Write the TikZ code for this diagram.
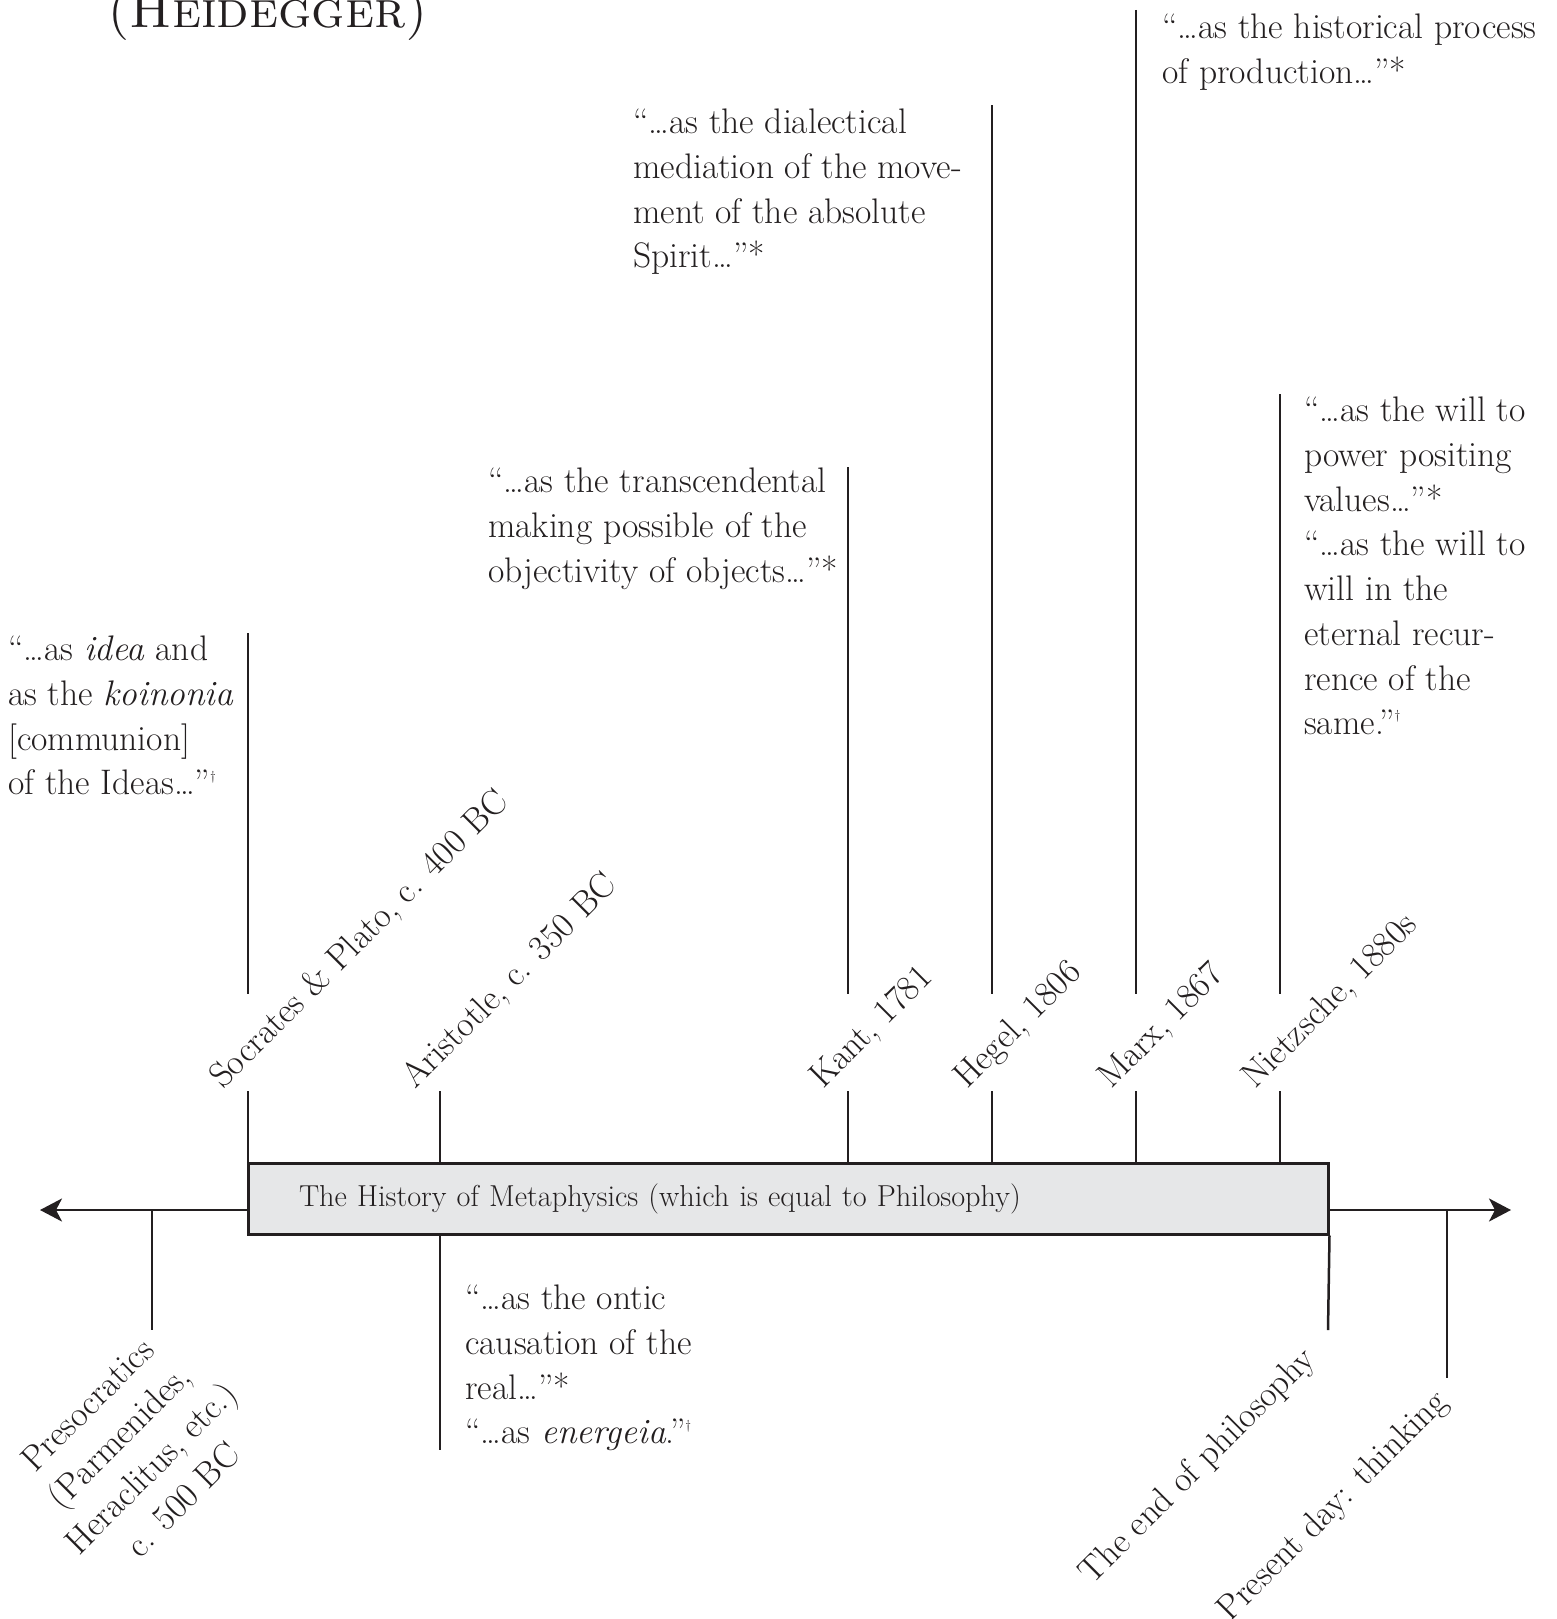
\documentclass[tikz,border=0pt]{standalone}
\usepackage{fontspec}
\usepackage{xcolor}
\usetikzlibrary{arrows.meta,positioning,calc}
\definecolor{ink}{RGB}{35,31,32}
\definecolor{boxgrey}{RGB}{230,231,232}
\newcommand{\dg}{\raisebox{0.42em}{\fontsize{13}{13}\selectfont\textdagger}}

\begin{document}
\begin{tikzpicture}[x=1pt, y=-1pt,
    quote/.style={anchor=north west, align=left, inner sep=0pt, text=ink, font=\fontsize{35.5}{44.7}\selectfont},
    datelbl/.style={rotate=45, anchor=base west, inner sep=0pt, text=ink, font=\fontsize{35.5}{40}\selectfont},
    endlbl/.style={rotate=45, anchor=base east, inner sep=0pt, text=ink, font=\fontsize{35.5}{40}\selectfont},
    tick/.style={draw=ink, line width=2.5pt},
    histbox/.style={rectangle, draw=ink, fill=boxgrey, line width=3pt, minimum height=71pt, inner xsep=51pt, inner ysep=0pt, text width=978pt, align=left, text=ink, font=\fontsize{30.3}{36}\selectfont},
    arrow/.style={-{Stealth[length=22pt, width=23pt, inset=6pt]}, draw=ink, line width=2.5pt}
]
\useasboundingbox (0,0) rectangle (1556,1619);

% Title (cut off at the top)
\node[anchor=base west, inner sep=0pt, text=ink, font=\fontsize{52}{52}\selectfont] (title) at (107,28) {\textsc{(Heidegger)}};

% Timeline
\node[histbox] (hist) at (788,1198.5) {The History of Metaphysics (which is equal to Philosophy)};
\coordinate (past) at (40,1210);
\coordinate (future) at (1511,1210);
\draw[arrow] (hist.west |- past) -- (past);
\draw[arrow] (hist.east |- future) -- (future);

% Gap where the dates cross the ticks
\coordinate (gap top) at (0,994);
\coordinate (gap bot) at (0,1091);

% Tick tops
\coordinate (soc top) at (248,633);
\coordinate (ari top) at (440,1091);
\coordinate (kant top) at (848,467);
\coordinate (hegel top) at (992,105);
\coordinate (marx top) at (1136,10);
\coordinate (nietz top) at (1280,394);

% Ticks above the box
\draw[tick] (soc top) -- (soc top |- gap top);
\draw[tick] (soc top |- gap bot) -- (soc top |- hist.north);
\draw[tick] (ari top) -- (ari top |- hist.north);
\draw[tick] (kant top) -- (kant top |- gap top);
\draw[tick] (kant top |- gap bot) -- (kant top |- hist.north);
\draw[tick] (hegel top) -- (hegel top |- gap top);
\draw[tick] (hegel top |- gap bot) -- (hegel top |- hist.north);
\draw[tick] (marx top) -- (marx top |- gap top);
\draw[tick] (marx top |- gap bot) -- (marx top |- hist.north);
\draw[tick] (nietz top) -- (nietz top |- gap top);
\draw[tick] (nietz top |- gap bot) -- (nietz top |- hist.north);

% Dates
\node[datelbl] (soc) at (223,1090) {Socrates \& Plato, c. 400 BC};
\node[datelbl] (ari) at (415,1090) {Aristotle, c. 350 BC};
\node[datelbl] (kant) at (823,1090) {Kant, 1781};
\node[datelbl] (hegel) at (967,1090) {Hegel, 1806};
\node[datelbl] (marx) at (1111,1090) {Marx, 1867};
\node[datelbl] (nietz) at (1255,1090) {Nietzsche, 1880s};

% Ticks below the box
\coordinate (preso end) at (152,1330);
\coordinate (ari end) at (440,1450);
\coordinate (end end) at (1328,1330);
\coordinate (now end) at (1447,1378);
\draw[tick] (preso end |- past) -- (preso end);
\draw[tick] (ari end |- hist.south) -- (ari end);
\draw[tick] (hist.south east) -- (end end);
\draw[tick] (now end |- future) -- (now end);

\node[rotate=45, align=center, inner sep=0pt, text=ink, font=\fontsize{35.5}{45}\selectfont] (preso) at (135,1452) {Presocratics\\(Parmenides,\\Heraclitus, etc.)\\c. 500 BC};
\node[endlbl] (endphil) at (1317,1361) {The end of philosophy};
\node[endlbl] (now) at (1449,1404) {Present day: thinking};

% Quotations
\node[quote] (q soc) at (8,636) {“…as \textit{idea} and\\as the \textit{koinonia}\\{[}communion]\\of the Ideas…”\dg};
\node[quote] (q ari) at (465,1285) {“…as the ontic\\causation of the\\real…”*\\“…as \textit{energeia}.”\dg};
\node[quote] (q kant) at (488,468) {“…as the transcendental\\making possible of the\\objectivity of objects…”*};
\node[quote] (q hegel) at (633,109) {“…as the dialectical\\mediation of the move-\\ment of the absolute\\Spirit…”*};
\node[quote] (q marx) at (1162,14) {“…as the historical process\\of production…”*};
\node[quote] (q nietz) at (1304,397) {“…as the will to\\power positing\\values…”*\\“…as the will to\\will in the\\eternal recur-\\rence of the\\same.”\dg};

\end{tikzpicture}
\end{document}
